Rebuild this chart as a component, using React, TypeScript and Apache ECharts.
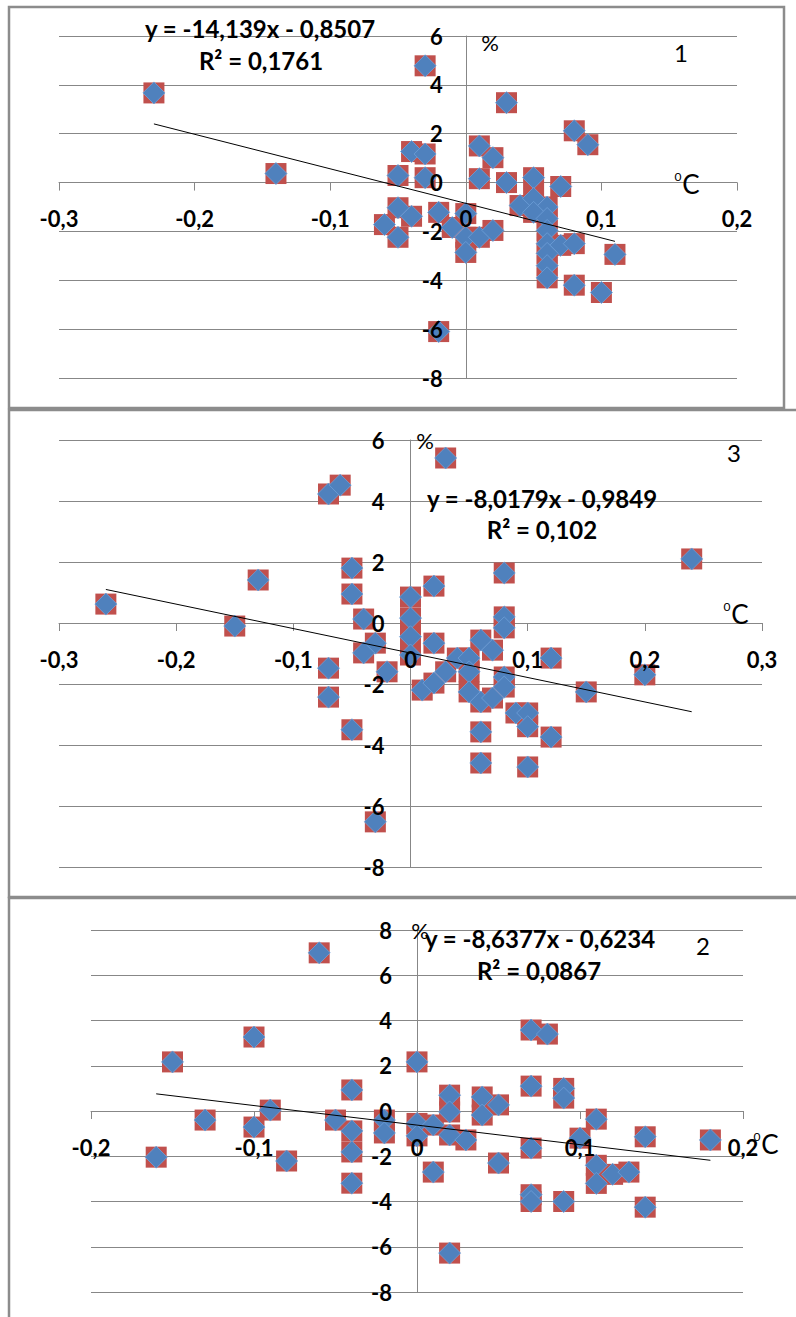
import React, { useEffect, useRef } from "react";
import * as echarts from "echarts";

// Panel "1"
const panel1Points: [number, number][] = [
  [-0.23, 3.67], [-0.14, 0.37], [-0.03, 4.78], [0.03, 3.27], [0.08, 2.12], [0.09, 1.55],
  [0.01, 1.5], [0.02, 1.02], [-0.04, 1.27], [-0.03, 1.17], [-0.03, 0.2], [-0.05, 0.29],
  [0.01, 0.16], [0.03, 0.0], [0.05, 0.2], [0.07, -0.16], [-0.05, -1.03], [-0.04, -1.38],
  [-0.06, -1.72], [-0.05, -2.24], [-0.02, -1.22], [-0.01, -1.84], [0, -1.27], [0, -2.24],
  [0, -2.86], [0.01, -2.24], [0.02, -1.96], [0.04, -0.94], [0.05, -0.65], [0.06, -1.0],
  [0.05, -1.22], [0.06, -1.47], [0.06, -1.96], [0.06, -2.5], [0.07, -2.57], [0.08, -2.5],
  [0.06, -2.9], [0.06, -3.4], [0.06, -3.9], [0.08, -4.2], [0.1, -4.5], [0.11, -2.94],
  [-0.02, -6.1],
];
const panel1Slope = -14.139;
const panel1Intercept = -0.8507;
const panel1Equation = "y = -14,139x - 0,8507";
const panel1R2 = "R² = 0,1761";

// Panel "3"
const panel3Points: [number, number][] = [
  [-0.26, 0.62], [-0.15, -0.1], [-0.13, 1.41], [-0.07, 4.23], [-0.06, 4.52], [-0.05, 1.8],
  [-0.05, 0.95], [-0.04, 0.13], [-0.03, -0.66], [-0.04, -0.98], [-0.02, -1.6], [-0.07, -1.48],
  [-0.07, -2.43], [-0.05, -3.5], [-0.03, -6.52], [0, 0.85], [0, 0.16], [0, -0.45], [0, -1.05],
  [0.02, 1.21], [0.02, -0.66], [0.01, -2.2], [0.02, -1.97], [0.03, -1.6], [0.04, -1.15],
  [0.05, -1.15], [0.05, -1.6], [0.05, -2.26], [0.06, -0.56], [0.07, -0.89], [0.06, -2.59],
  [0.07, -2.46], [0.08, -1.77], [0.08, -2.1], [0.08, 1.64], [0.08, 0.2], [0.08, -0.16],
  [0.12, -1.15], [0.09, -2.95], [0.1, -2.95], [0.1, -3.4], [0.12, -3.74], [0.06, -3.57],
  [0.06, -4.59], [0.1, -4.72], [0.03, 5.41], [0.24, 2.1], [0.2, -1.7], [0.15, -2.26],
];
const panel3Slope = -8.0179;
const panel3Intercept = -0.9849;
const panel3Equation = "y = -8,0179x - 0,9849";
const panel3R2 = "R² = 0,102";

// Panel "2"
const panel2Points: [number, number][] = [
  [-0.06, 6.99], [-0.1, 3.27], [-0.15, 2.17], [-0.13, -0.4], [-0.16, -2.04], [-0.1, -0.71],
  [-0.09, 0.04], [-0.08, -2.21], [-0.05, -0.4], [-0.04, 0.93], [-0.04, -0.88], [-0.04, -1.81],
  [-0.04, -3.19], [-0.02, -0.4], [-0.02, -0.97], [0, 2.17], [0, -0.55], [0, -1.1],
  [0.01, -0.62], [0.02, 0.7], [0.02, -0.04], [0.02, -1.06], [0.03, -1.28], [0.01, -2.7],
  [0.04, 0.62], [0.04, -0.18], [0.05, 0.27], [0.05, -2.3], [0.07, 1.1], [0.07, -1.64],
  [0.07, -3.7], [0.07, -4.0], [0.07, 3.58], [0.08, 3.4], [0.09, 1.0], [0.09, 0.57],
  [0.09, -4.0], [0.1, -1.2], [0.11, -0.36], [0.11, -2.4], [0.11, -3.2], [0.12, -2.8],
  [0.13, -2.7], [0.14, -1.14], [0.14, -4.25], [0.18, -1.28], [0.02, -6.28],
];
const panel2Slope = -8.6377;
const panel2Intercept = -0.6234;
const panel2Equation = "y = -8,6377x - 0,6234";
const panel2R2 = "R² = 0,0867";

const xRanges: [number, number][] = [[-0.3, 0.2], [-0.3, 0.3], [-0.2, 0.2]];
const yRanges: [number, number][] = [[-8, 6], [-8, 6], [-8, 8]];
const panelNumbers = ["1", "3", "2"];

const GRID_COLOR = "#878787";
const RED = "#C0504D";
const BLUE = "#4F81BD";
const FONT = "Lato, 'Open Sans', sans-serif";

function fmt(v: number): string {
  const r = Math.round(v * 10) / 10;
  if (r === 0) return "0";
  return r.toFixed(1).replace(".", ",");
}

function trend(points: [number, number][], slope: number, intercept: number): [number, number][] {
  const xs = points.map((p) => p[0]);
  const x0 = Math.min(...xs);
  const x1 = Math.max(...xs);
  return [
    [x0, slope * x0 + intercept],
    [x1, slope * x1 + intercept],
  ];
}

export default function App() {
  const ref = useRef<HTMLDivElement>(null);
  useEffect(() => {
    if (!ref.current) return;
    const chart = echarts.init(ref.current, null, { renderer: "svg" });

    const grids = [
      { left: 59, top: 36, width: 678, height: 342 },
      { left: 59, top: 440, width: 703, height: 427 },
      { left: 91, top: 930, width: 652, height: 362 },
    ];
    const panels = [
      { pts: panel1Points, s: panel1Slope, b: panel1Intercept, yMargin: 23 },
      { pts: panel3Points, s: panel3Slope, b: panel3Intercept, yMargin: 26 },
      { pts: panel2Points, s: panel2Slope, b: panel2Intercept, yMargin: 25 },
    ];

    const xAxis: any[] = [];
    const yAxis: any[] = [];
    const series: any[] = [];
    const labelStyle = {
      fontFamily: FONT,
      fontWeight: "bold",
      fontSize: 22,
      color: "#000",
    };
    panels.forEach((p, i) => {
      const [xmin, xmax] = xRanges[i];
      const [ymin, ymax] = yRanges[i];
      // base axes: lines, ticks, gridlines (drawn below the markers)
      xAxis.push({
        type: "value", gridIndex: i, min: xmin, max: xmax, interval: 0.1, position: "bottom",
        axisLine: { show: true, onZero: true, lineStyle: { color: GRID_COLOR, width: 1 } },
        axisTick: { show: true, length: 8, lineStyle: { color: GRID_COLOR } },
        splitLine: { show: false },
        axisLabel: { show: false },
      });
      yAxis.push({
        type: "value", gridIndex: i, min: ymin, max: ymax, interval: 2, position: "left",
        axisLine: { show: true, onZero: true, lineStyle: { color: GRID_COLOR, width: 1 } },
        axisTick: { show: false },
        splitLine: { show: true, lineStyle: { color: GRID_COLOR, width: 1 } },
        axisLabel: { show: false },
      });
      // label axes drawn above the markers; moved onto the zero lines below
      xAxis.push({
        type: "value", gridIndex: i, min: xmin, max: xmax, interval: 0.1, position: "bottom", z: 10, offset: 0,
        axisLine: { show: false, onZero: false },
        axisTick: { show: false },
        splitLine: { show: false },
        axisLabel: { show: true, margin: 25, formatter: fmt, ...labelStyle },
      });
      yAxis.push({
        type: "value", gridIndex: i, min: ymin, max: ymax, interval: 2, position: "left", z: 10, offset: 0,
        axisLine: { show: false, onZero: false },
        axisTick: { show: false },
        splitLine: { show: false },
        axisLabel: { show: true, margin: p.yMargin, formatter: (v: number) => String(v), ...labelStyle },
      });
      series.push({
        type: "scatter", xAxisIndex: 2 * i, yAxisIndex: 2 * i, symbol: "rect", symbolSize: 21,
        itemStyle: { color: RED, opacity: 1 }, data: p.pts, z: 2,
      });
      series.push({
        type: "scatter", xAxisIndex: 2 * i, yAxisIndex: 2 * i, symbol: "diamond", symbolSize: 22,
        itemStyle: { color: BLUE, borderColor: "#6FA0D8", borderWidth: 0.8, opacity: 1 }, data: p.pts, z: 3,
      });
      series.push({
        type: "line", xAxisIndex: 2 * i, yAxisIndex: 2 * i, showSymbol: false, symbol: "none",
        lineStyle: { color: "#000", width: 1 }, data: trend(p.pts, p.s, p.b), z: 4,
      });
    });

    const boldText = (text: string, x: number, y: number) => ({
      type: "text", x, y, z: 20,
      style: { text, fill: "#000", font: `bold 24px ${FONT}`, align: "center", verticalAlign: "middle" },
    });
    const normText = (text: string, x: number, y: number, size: number) => ({
      type: "text", x, y, z: 20,
      style: { text, fill: "#000", font: `${size}px ${FONT}`, align: "center", verticalAlign: "middle" },
    });
    const degC = (x: number, y: number) => [
      normText("0", x, y - 6, 12),
      normText("C", x + 13, y + 2, 26),
    ];

    const graphic: any[] = [
      { type: "rect", shape: { x: 9, y: 7, width: 775, height: 401 }, style: { fill: "none", stroke: "#8C8C8C", lineWidth: 2.5 }, z: 0 },
      { type: "rect", shape: { x: 9, y: 410, width: 800, height: 487 }, style: { fill: "none", stroke: "#8C8C8C", lineWidth: 2.5 }, z: 0 },
      { type: "rect", shape: { x: 9, y: 898, width: 800, height: 440 }, style: { fill: "none", stroke: "#8C8C8C", lineWidth: 2.5 }, z: 0 },
      boldText(panel1Equation, 260, 28),
      boldText(panel1R2, 261, 60),
      normText("%", 490, 42, 22),
      normText(panelNumbers[0], 681, 52, 24),
      ...degC(678, 182),
      boldText(panel3Equation, 542, 498),
      boldText(panel3R2, 542, 529),
      normText("%", 425, 440, 22),
      normText(panelNumbers[1], 734, 452, 24),
      ...degC(727, 612),
      boldText(panel2Equation, 540, 938),
      boldText(panel2R2, 539, 970),
      normText("%", 420, 930, 22),
      normText(panelNumbers[2], 703, 945, 24),
      ...degC(757, 1142),
    ];

    chart.setOption({
      animation: false,
      backgroundColor: "#fff",
      grid: grids.map((g) => ({ ...g, containLabel: false, outerBoundsMode: "none" })),
      xAxis,
      yAxis,
      series,
      graphic,
    });

    // Move the label axes onto the zero lines, using the library's own scales.
    const newX: any[] = [];
    const newY: any[] = [];
    panels.forEach((_, i) => {
      const zero = chart.convertToPixel({ xAxisIndex: 2 * i, yAxisIndex: 2 * i }, [0, 0]) as number[];
      const bottomLeft = chart.convertToPixel(
        { xAxisIndex: 2 * i, yAxisIndex: 2 * i },
        [xRanges[i][0], yRanges[i][0]]
      ) as number[];
      newX.push({}, { offset: zero[1] - bottomLeft[1] });
      newY.push({}, { offset: bottomLeft[0] - zero[0] });
    });
    chart.setOption({ xAxis: newX, yAxis: newY });

    return () => chart.dispose();
  }, []);
  return (
    <div
      ref={ref}
      style={{ position: "absolute", left: 0, top: 0, width: 796, height: 1317, background: "#fff" }}
    />
  );
}
